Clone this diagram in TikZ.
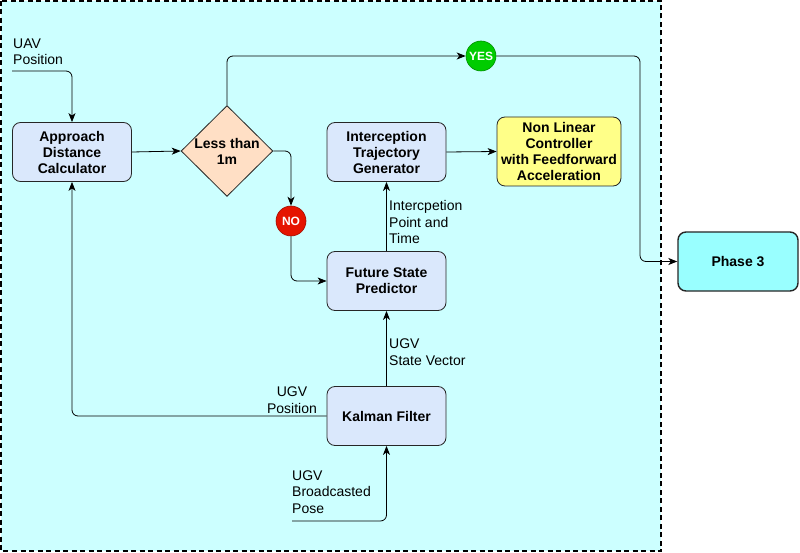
\documentclass[tikz,border=0pt]{standalone}
\usepackage{fontspec}
\setmainfont{Liberation Sans}
\usetikzlibrary{arrows.meta,shapes.geometric}
\definecolor{bgcyan}{HTML}{CCFFFF}
\definecolor{boxblue}{HTML}{DAE8FC}
\definecolor{peach}{HTML}{FFDFC5}
\definecolor{lyellow}{HTML}{FFFF88}
\definecolor{phasecyan}{HTML}{99FFFF}
\definecolor{yesgreen}{HTML}{00CC00}
\definecolor{nored}{HTML}{E51400}
\tikzset{
  bluebox/.style={draw=black!85, fill=boxblue, rounded corners=8pt, minimum width=119pt, minimum height=59pt, align=center, font=\fontsize{14}{16}\selectfont\bfseries, line width=0.8pt},
  decbox/.style={draw=black!85, fill=peach, diamond, minimum width=89pt, minimum height=88pt, inner sep=0pt, align=center, font=\fontsize{14}{16}\selectfont\bfseries, line width=0.8pt, aspect=1.01},
  ctrlbox/.style={bluebox, fill=lyellow, minimum width=124pt, minimum height=69pt},
  phasebox/.style={bluebox, fill=phasecyan, line width=1.4pt, minimum width=120pt, minimum height=59pt},
  badge/.style={circle, minimum size=30pt, inner sep=0pt, text=white, font=\fontsize{12}{12}\selectfont\bfseries, line width=0.6pt},
  lbl/.style={inner sep=0pt, font=\fontsize{14}{16.5}\selectfont},
  conn/.style={line width=0.8pt, rounded corners=6pt, -{Stealth[length=9pt,width=7pt,inset=2.5pt]}},
  plain/.style={line width=0.8pt, rounded corners=6pt}
}
\begin{document}
\begin{tikzpicture}[x=1pt,y=-1pt]
\useasboundingbox (0,0) rectangle (800,553);
\fill[bgcyan] (1,1) rectangle (661,551);
\draw[line width=1.3pt, dash pattern=on 5pt off 3.5pt] (1,1) rectangle (661,551);

\node[bluebox] (adc) at (72,152) {Approach\\Distance\\Calculator};
\node[decbox] (dec) at (227,151) {Less than\\1m};
\node[bluebox] (itg) at (386.5,152) {Interception\\Trajectory\\Generator};
\node[ctrlbox] (nlc) at (559,151.5) {Non Linear\\Controller\\with Feedforward\\Acceleration};
\node[bluebox] (fsp) at (386.5,281) {Future State\\Predictor};
\node[bluebox] (kf) at (386.5,416) {Kalman Filter};
\node[phasebox] (ph3) at (738,261.5) {Phase 3};
\node[badge, fill=yesgreen, draw=yesgreen!70!black] (yes) at (481,56) {YES};
\node[badge, fill=nored, draw=nored!70!black] (no) at (291,221) {NO};

\coordinate (uavin) at (12,71);
\coordinate (poseIn) at (292,521);

\node[lbl, anchor=west, align=left] (uavlbl) at (13,52) {UAV\\Position};
\node[lbl, anchor=west, align=left] (iptlbl) at (389,222) {Intercpetion\\Point and\\Time};
\node[lbl, anchor=west, align=left] (svlbl) at (389,352) {UGV\\State Vector};
\node[lbl, anchor=center, align=center] (poslbl) at (292,400) {UGV\\Position};
\node[lbl, anchor=west, align=left] (poselbl) at (292,492) {UGV\\Broadcasted\\Pose};

\draw[conn] (uavin) -| (adc.north);
\draw[conn] (adc.east) -- (dec.west);
\draw[conn] (dec.north) |- (yes.west);
\draw[conn] (yes.east) -| (640,200) |- (ph3.west);
\draw[conn] (dec.east) -| (no.north);
\draw[conn] (no.south) |- (fsp.west);
\draw[conn] (fsp.north) -- (itg.south);
\draw[conn] (itg.east) -- (nlc.west);
\draw[conn] (kf.north) -- (fsp.south);
\draw[conn] (kf.west) -| (adc.south);
\draw[conn] (poseIn) -| (kf.south);
\end{tikzpicture}
\end{document}
